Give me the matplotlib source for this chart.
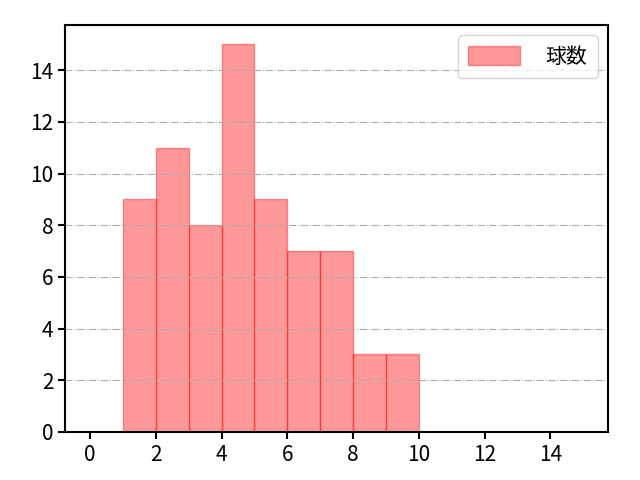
import matplotlib.pyplot as plt

plt.rcParams["font.family"] = ["Noto Sans CJK JP", "DejaVu Sans"]

BIN_EDGES = list(range(0, 16))
BIN_LEFTS = [1, 2, 3, 4, 5, 6, 7, 8, 9]
COUNTS = [9, 11, 8, 15, 9, 7, 7, 3, 3]
LABEL = "球数"


def main() -> None:
    fig = plt.figure(figsize=(6.4, 4.8), dpi=100)
    ax = fig.add_axes([0.102, 0.1, 0.848, 0.848])

    ax.hist(
        BIN_LEFTS,
        bins=BIN_EDGES,
        weights=COUNTS,
        color="red",
        alpha=0.4,
        edgecolor="red",
        linewidth=1,
        label=LABEL,
    )
    ax.grid(axis="y", linestyle="-.", color="#aaaaaa", linewidth=0.8)
    ax.set_xticks(range(0, 15, 2))
    ax.set_yticks(range(0, 15, 2))
    ax.tick_params(labelsize=15, width=1.5, length=5)
    for spine in ax.spines.values():
        spine.set_linewidth(1.5)
    ax.legend(loc="upper right", fontsize=15, handlelength=2.5, handleheight=1.0,
              borderpad=0.5, handletextpad=1.2)

    fig.savefig("out.png", dpi=100)
    plt.close(fig)


if __name__ == "__main__":
    main()
